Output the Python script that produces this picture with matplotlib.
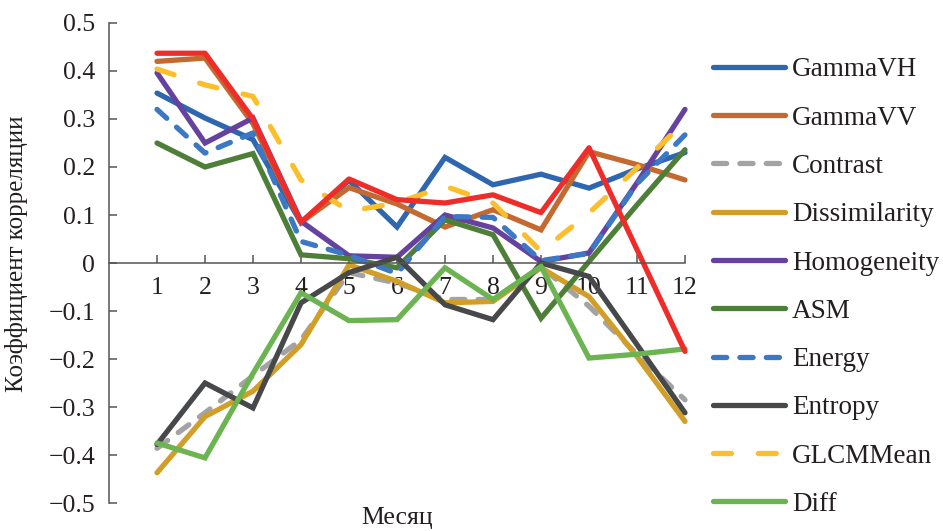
import numpy as np
import matplotlib
matplotlib.use('Agg')
import matplotlib.pyplot as plt
from matplotlib.ticker import FuncFormatter

plt.rcParams['font.family'] = ['Liberation Serif', 'DejaVu Serif']

months = list(range(1, 13))

gamma_vh = [0.354, 0.302, 0.257, 0.084, 0.172, 0.075, 0.220, 0.163, 0.185, 0.156, 0.196, 0.230]
gamma_vv = [0.420, 0.427, 0.290, 0.085, 0.157, 0.123, 0.075, 0.111, 0.069, 0.232, 0.205, 0.173]
contrast = [-0.386, -0.312, -0.235, -0.160, -0.020, -0.042, -0.076, -0.076, -0.008, -0.090, -0.190, -0.285]
dissimilarity = [-0.437, -0.320, -0.267, -0.170, -0.004, -0.038, -0.083, -0.080, -0.010, -0.070, -0.195, -0.330]
homogeneity = [0.396, 0.250, 0.302, 0.087, 0.015, 0.012, 0.100, 0.073, 0.003, 0.021, 0.167, 0.320]
asm = [0.250, 0.200, 0.228, 0.017, 0.009, -0.010, 0.090, 0.059, -0.115, 0.003, 0.121, 0.236]
energy = [0.320, 0.229, 0.271, 0.045, 0.016, -0.022, 0.097, 0.095, 0.005, 0.020, 0.165, 0.267]
entropy = [-0.378, -0.250, -0.302, -0.083, -0.020, 0.012, -0.087, -0.118, 0.000, -0.028, -0.170, -0.312]
glcm_mean = [0.404, 0.371, 0.347, 0.173, 0.108, 0.125, 0.160, 0.125, 0.024, 0.104, 0.198, 0.295]
diff = [-0.375, -0.406, -0.230, -0.062, -0.120, -0.118, -0.010, -0.076, -0.007, -0.198, -0.190, -0.179]
red_series = [0.437, 0.437, 0.300, 0.085, 0.175, 0.132, 0.125, 0.142, 0.105, 0.240, 0.028, -0.184]

series = [
    ('GammaVH', gamma_vh, '#2E66B0', 'solid'),
    ('GammaVV', gamma_vv, '#C4692F', 'solid'),
    ('Contrast', contrast, '#A3A3A6', 'dash'),
    ('Dissimilarity', dissimilarity, '#D19E27', 'solid'),
    ('Homogeneity', homogeneity, '#6542A0', 'solid'),
    ('ASM', asm, '#4E7F38', 'solid'),
    ('Energy', energy, '#3D78C5', 'dash'),
    ('Entropy', entropy, '#47484A', 'solid'),
    ('GLCMMean', glcm_mean, '#FDBE2C', 'longdash'),
    ('Diff', diff, '#6CB352', 'solid'),
]

dash_styles = {'solid': None, 'dash': (2.5, 2.5), 'longdash': (3.4, 5.1)}

fig = plt.figure(figsize=(9.43, 5.31), dpi=100)
ax = fig.add_axes([0.1156, 0.0527, 0.6108, 0.904])

lw = 3.8
for name, vals, color, style in series:
    line, = ax.plot(months, vals, color=color, lw=lw, label=name, clip_on=False,
                    solid_capstyle='round', dash_capstyle='round', solid_joinstyle='miter')
    if dash_styles[style] is not None:
        line.set_dashes(dash_styles[style])
ax.plot(months, red_series, color='#EE2D2A', lw=lw, solid_capstyle='round', clip_on=False)

ax.set_xlim(0, 12)
ax.set_ylim(-0.5, 0.5)
ax.set_xticks(months)
ax.set_yticks(np.arange(-0.5, 0.51, 0.1))
ax.yaxis.set_major_formatter(FuncFormatter(lambda v, p: '0' if abs(v) < 1e-9 else f'{v:.1f}'.replace('-', '\u2212')))

ax.spines['top'].set_visible(False)
ax.spines['right'].set_visible(False)
ax.spines['bottom'].set_position(('data', 0))
for s in ('left', 'bottom'):
    ax.spines[s].set_color('#555555')
    ax.spines[s].set_linewidth(1.1)
ax.tick_params(axis='both', direction='in', length=6, width=1.1, color='#555555',
               labelsize=18.5, labelcolor='#231F20')
ax.tick_params(axis='x', pad=10)
ax.tick_params(axis='y', pad=10)

ax.set_ylabel('Коэффициент корреляции', fontsize=18, color='#231F20')
ax.yaxis.set_label_coords(-0.141, 0.52)
ax.set_xlabel('Месяц', fontsize=18.5, color='#231F20')
ax.xaxis.set_label_coords(0.5, -0.008)

leg = fig.legend(loc='upper left', bbox_to_anchor=(0.756, 0.892), frameon=False,
                 fontsize=19.5, handlelength=2.66, handletextpad=0.26, labelspacing=0.86,
                 borderpad=0, borderaxespad=0)
for t in leg.get_texts():
    t.set_color('#231F20')

fig.savefig('out.png', dpi=100)
